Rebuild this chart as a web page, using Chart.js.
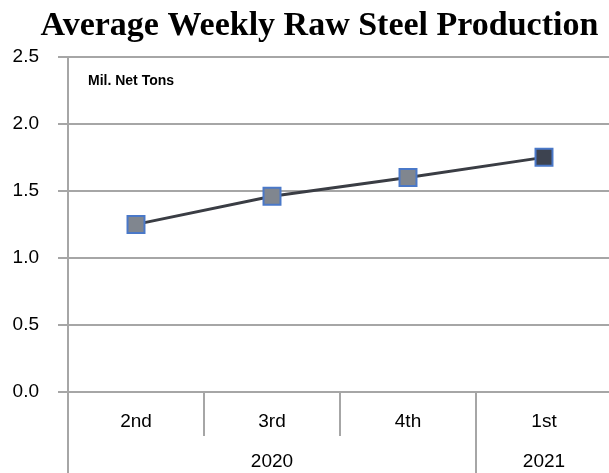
<!DOCTYPE html>
<html>
<head>
<meta charset="utf-8">
<script src="https://cdn.jsdelivr.net/npm/chart.js@4/dist/chart.umd.min.js"></script>
<style>
  html, body { margin: 0; padding: 0; background: #fff; overflow: hidden; }
  #wrap { width: 609px; height: 473px; overflow: hidden; }
  #steelChart { display: block; }
</style>
</head>
<body>
<div id="wrap"><canvas id="steelChart" width="639" height="473"></canvas></div>
<script>
const quarters = ["2nd", "3rd", "4th", "1st"];
const years = ["2020", "2020", "2020", "2021"];
const production = [1.25, 1.46, 1.60, 1.75];
const markerFills = ["#80868f", "#80868f", "#80868f", "#3d4350"];

const gridGray = "#a6a6a6";
const labelFont = "'Liberation Sans', sans-serif";

// draws the year row and the divider lines below the x axis
const yearRows = {
  id: "yearRows",
  afterDraw(chart) {
    const ctx = chart.ctx;
    const x = chart.scales.x;
    const area = chart.chartArea;
    const bottom = chart.height;
    const half = (x.getPixelForValue(1) - x.getPixelForValue(0)) / 2;

    ctx.save();
    ctx.strokeStyle = gridGray;
    ctx.lineWidth = 2;

    // left axis continues down through the label rows
    ctx.beginPath();
    ctx.moveTo(area.left, area.bottom);
    ctx.lineTo(area.left, bottom);
    ctx.stroke();

    for (let i = 1; i < quarters.length; i++) {
      const bx = x.getPixelForValue(i) - half;
      const end = years[i] !== years[i - 1] ? bottom : area.bottom + 44;
      ctx.beginPath();
      ctx.moveTo(bx, area.bottom);
      ctx.lineTo(bx, end);
      ctx.stroke();
    }

    ctx.fillStyle = "#000";
    ctx.font = "19px " + labelFont;
    ctx.textAlign = "center";
    ctx.textBaseline = "middle";
    let start = 0;
    for (let i = 1; i <= years.length; i++) {
      if (i === years.length || years[i] !== years[start]) {
        const left = x.getPixelForValue(start) - half;
        const right = x.getPixelForValue(i - 1) + half;
        ctx.fillText(years[start], (left + right) / 2, area.bottom + 70);
        start = i;
      }
    }

    // unit note inside the plot
    ctx.font = "bold 14px " + labelFont;
    ctx.textAlign = "left";
    ctx.fillText("Mil. Net Tons", area.left + 20, area.top + 24);
    ctx.restore();
  }
};

new Chart(document.getElementById("steelChart"), {
  type: "line",
  data: {
    labels: quarters,
    datasets: [{
      data: production,
      borderColor: "#3a3d44",
      borderWidth: 3,
      pointStyle: "rect",
      pointRadius: 12,
      pointHoverRadius: 12,
      pointBackgroundColor: markerFills,
      pointBorderColor: "#4a78c8",
      pointBorderWidth: 2,
      tension: 0
    }]
  },
  options: {
    responsive: false,
    animation: false,
    plugins: {
      legend: { display: false },
      tooltip: { enabled: false },
      title: {
        display: true,
        text: "Average Weekly Raw Steel Production",
        color: "#000",
        font: { family: "'Liberation Serif', serif", size: 34, weight: "bold" },
        padding: { top: 6, bottom: 10 }
      }
    },
    scales: {
      x: {
        offset: true,
        grid: { display: false, drawTicks: false },
        border: { display: true, color: gridGray, width: 2 },
        ticks: {
          color: "#000",
          font: { family: labelFont, size: 19 },
          padding: 18
        },
        afterFit(s) {
          s.height = 81;
          s.paddingLeft = 0;
          s.paddingRight = 27;
        }
      },
      y: {
        min: 0,
        max: 2.5,
        ticks: {
          stepSize: 0.5,
          color: "#000",
          font: { family: labelFont, size: 19 },
          padding: 19,
          callback: v => v.toFixed(1)
        },
        grid: { color: gridGray, lineWidth: 2, tickLength: 10 },
        border: { display: true, color: gridGray, width: 2 },
        afterFit(s) { s.width = 68; }
      }
    }
  },
  plugins: [yearRows]
});
</script>
</body>
</html>
